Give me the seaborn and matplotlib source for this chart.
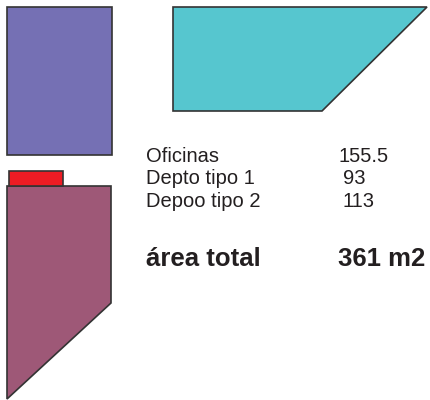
import matplotlib
matplotlib.use("Agg")
import matplotlib.pyplot as plt
import seaborn as sns
from matplotlib.patches import Polygon

sns.set_style("white")
plt.rcParams['font.family'] = ['Liberation Sans', 'DejaVu Sans']

# room outlines (drawing units = px of the original plan)
oficinas_x = [7, 112, 112, 7]
oficinas_y = [7, 7, 155, 155]
depto1_x = [173, 427, 322, 173]
depto1_y = [7, 7, 111, 111]
depto2_x = [7, 111, 111, 7]
depto2_y = [186, 186, 303, 399]
acceso_x = [9, 63, 63, 9]
acceso_y = [171, 171, 186, 186]

rooms = ["Oficinas", "Depto tipo 1", "Depoo tipo 2"]
areas = ["155.5", "93", "113"]
total_label = "área total"
total_value = "361 m2"

colors = ["#7570b4", "#56c6cf", "#9e5877", "#ed1c24"]

fig, ax = plt.subplots(figsize=(4.31, 4.0), dpi=100)
fig.subplots_adjust(left=0, right=1, bottom=0, top=1)

shapes = [(oficinas_x, oficinas_y), (depto1_x, depto1_y),
          (depto2_x, depto2_y), (acceso_x, acceso_y)]
for (xs, ys), c in zip(shapes, colors):
    ax.add_patch(Polygon(list(zip(xs, ys)), closed=True, facecolor=c,
                         edgecolor="#333333", linewidth=1.2))

for i, (name, val) in enumerate(zip(rooms, areas)):
    y = 162 + i * 22.5
    ax.text(146, y, name, fontsize=14.5, va="baseline", ha="left", color="#231f20")
    xv = 339 if i == 0 else 343
    ax.text(xv, y, val, fontsize=14.5, va="baseline", ha="left", color="#231f20")

ax.text(146, 266, total_label, fontsize=18.5, fontweight="bold", va="baseline", color="#231f20")
ax.text(338, 266, total_value, fontsize=18.5, fontweight="bold", va="baseline", color="#231f20")

ax.set_xlim(0, 431)
ax.set_ylim(400, 0)
ax.axis("off")
fig.savefig("out.png", dpi=100)
